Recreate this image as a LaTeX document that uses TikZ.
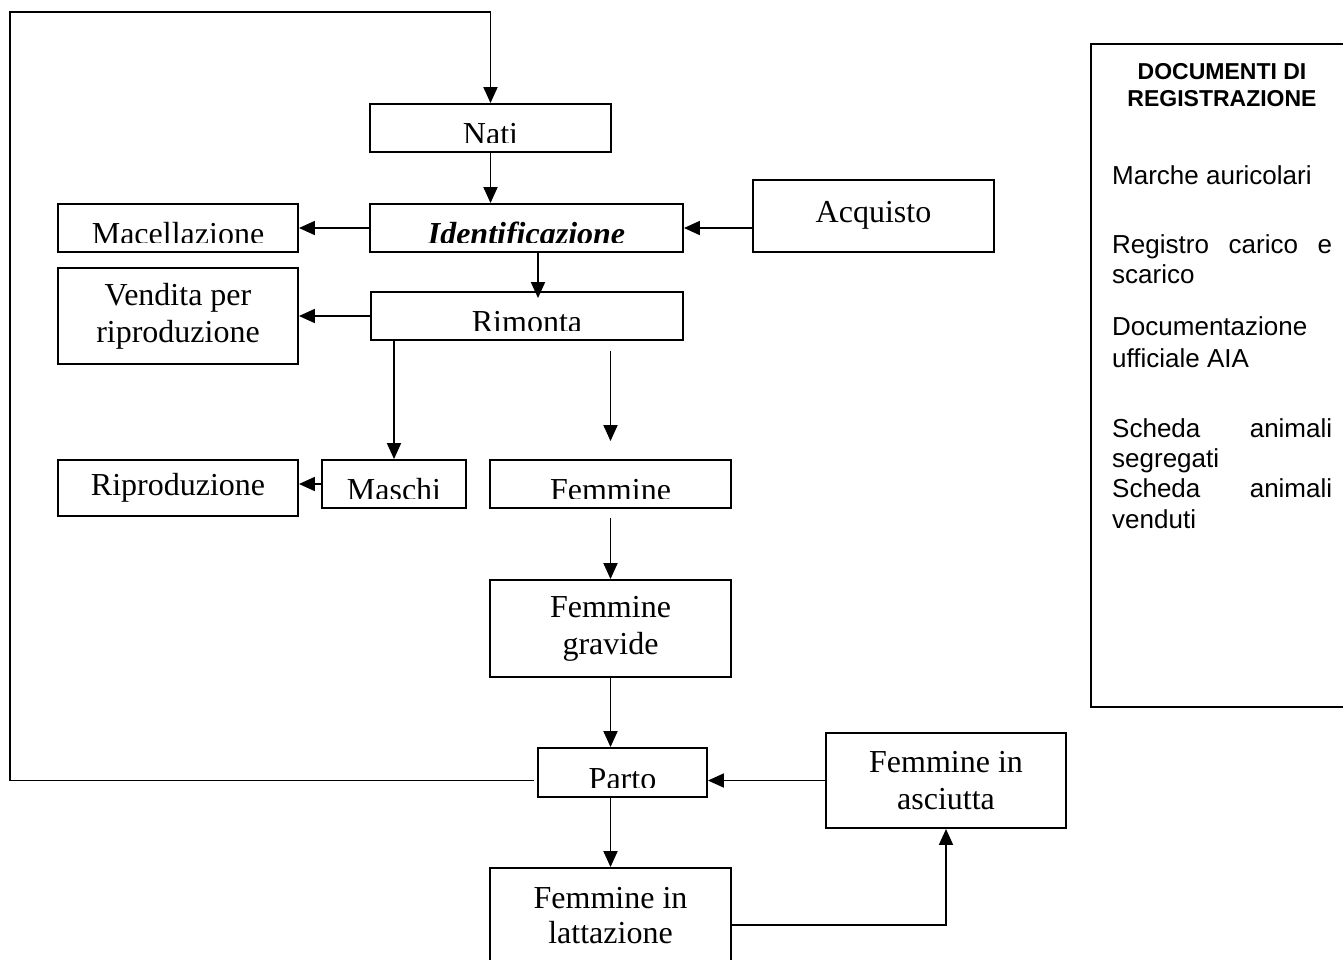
\documentclass[tikz,border=0pt]{standalone}
\usepackage{fontspec}
\setmainfont{Liberation Serif}
\newfontfamily\docsans{Liberation Sans}
\usetikzlibrary{arrows.meta}

\begin{document}
\begin{tikzpicture}[x=1pt,y=-1pt,
  box/.style={draw, line width=1.9pt, rectangle, inner sep=0pt, align=center,
    font=\fontsize{32}{37}\selectfont},
  lbl/.style={inner sep=0pt, anchor=base, font=\fontsize{32}{37}\selectfont},
  arr/.style={line width=1.9pt, -{Triangle[width=14pt,length=16pt]}},
  doc/.style={inner sep=0pt, anchor=base west, font=\docsans\fontsize{26}{30}\selectfont},
  doctitle/.style={inner sep=0pt, anchor=base, font=\docsans\bfseries\fontsize{23}{27}\selectfont}]

\clip (0,0) rectangle (1343,959);
\fill[white] (0,0) rectangle (1343,959);

% boxes of the flow chart
\node[box, minimum width=241pt, minimum height=48pt] (nati)    at (490.5,128) {};
\node[box, minimum width=313pt, minimum height=48pt] (ident)   at (526.5,228) {};
\node[box, minimum width=240pt, minimum height=48pt] (macell)  at (178,228) {};
\node[box, minimum width=241pt, minimum height=72pt] (acquisto) at (873.5,216) {};
\node[box, minimum width=312pt, minimum height=48pt] (rimonta) at (527,316) {};
\node[box, minimum width=240pt, minimum height=96pt] (vendita) at (178,316) {Vendita per\\riproduzione};
\node[box, minimum width=144pt, minimum height=48pt] (maschi)  at (394,484) {};
\node[box, minimum width=241pt, minimum height=48pt] (femmine) at (610.5,484) {};
\node[box, minimum width=240pt, minimum height=56pt] (riprod)  at (178,488) {Riproduzione};
\node[box, minimum width=241pt, minimum height=97pt] (gravide) at (610.5,628.5) {Femmine\\gravide};
\node[box, minimum width=169pt, minimum height=49pt] (parto)   at (622.5,772.5) {};
\node[box, minimum width=240pt, minimum height=95pt] (asciutta) at (946,780.5) {Femmine in\\asciutta};
\node[box, minimum width=241pt, minimum height=114pt] (lattaz) at (610.5,925) {};

% labels sitting low in their boxes, cut off near the bottom edge
\foreach \n/\t in {nati/Nati, macell/Macellazione, rimonta/Rimonta,
                   maschi/Maschi, femmine/Femmine, parto/Parto} {
  \begin{scope}
    \clip ([yshift=10.5pt]\n.south west) rectangle (\n.north east);
    \node[lbl] (\n-label) at ([yshift=8pt]\n.south) {\t};
  \end{scope}
}
\begin{scope}
  \clip ([yshift=10.5pt]ident.south west) rectangle (ident.north east);
  \node[lbl, font=\fontsize{32}{37}\selectfont\bfseries\itshape] (ident-label)
    at ([yshift=8pt]ident.south) {Identificazione};
\end{scope}
\node[lbl] (acquisto-label) at (873.5,222) {Acquisto};
\node[lbl] (lattaz-label1) at (610.5,908) {Femmine in};
\node[lbl] (lattaz-label2) at (610.5,943) {lattazione};

% connectors
\coordinate (loopcorner) at (10,12);
\draw[arr, shorten <=3pt] (parto.west |- asciutta.west) -| (loopcorner) -| (nati.north);
\draw[arr] (nati.south) -- (nati.south |- ident.north);
\draw[arr] (ident.west) -- (macell.east);
\draw[arr] (acquisto.west |- ident.east) -- (ident.east);
\draw[arr, shorten >=-7pt] ([xshift=11.5pt]ident.south) -- ([xshift=11.5pt]ident.south |- rimonta.north);
\draw[arr] (rimonta.west) -- (vendita.east);
\draw[arr] (maschi.north |- rimonta.south) -- (maschi.north);
\draw[arr, shorten <=10pt, shorten >=18pt] (femmine.north |- rimonta.south) -- (femmine.north);
\draw[arr] (maschi.west) -- (maschi.west -| riprod.east);
\draw[arr, shorten <=9pt] (femmine.south) -- (gravide.north);
\draw[arr] (gravide.south) -- (gravide.south |- parto.north);
\draw[arr] (asciutta.west) -- (asciutta.west -| parto.east);
\draw[arr] (lattaz.north |- parto.south) -- (lattaz.north);
\draw[arr] (lattaz.east) -| (asciutta.south);

% registration documents panel
\node[draw, line width=1.5pt, minimum width=279pt, minimum height=663pt, inner sep=0pt] (docs) at (1230.5,375.5) {};
\node[doctitle] (docs-t1) at (1222,79) {DOCUMENTI DI};
\node[doctitle] (docs-t2) at (1222,106) {REGISTRAZIONE};
\node[doc] (docs-l1) at (1112,184) {Marche auricolari};
\node[doc] (docs-l2) at (1112,253) {\hbox to 220pt{Registro\hfil carico\hfil e}};
\node[doc] (docs-l3) at (1112,283) {scarico};
\node[doc] (docs-l4) at (1112,335) {Documentazione};
\node[doc] (docs-l5) at (1112,367) {ufficiale AIA};
\node[doc] (docs-l6) at (1112,437) {\hbox to 220pt{Scheda\hfil animali}};
\node[doc] (docs-l7) at (1112,467) {segregati};
\node[doc] (docs-l8) at (1112,497) {\hbox to 220pt{Scheda\hfil animali}};
\node[doc] (docs-l9) at (1112,528) {venduti};
\end{tikzpicture}
\end{document}
